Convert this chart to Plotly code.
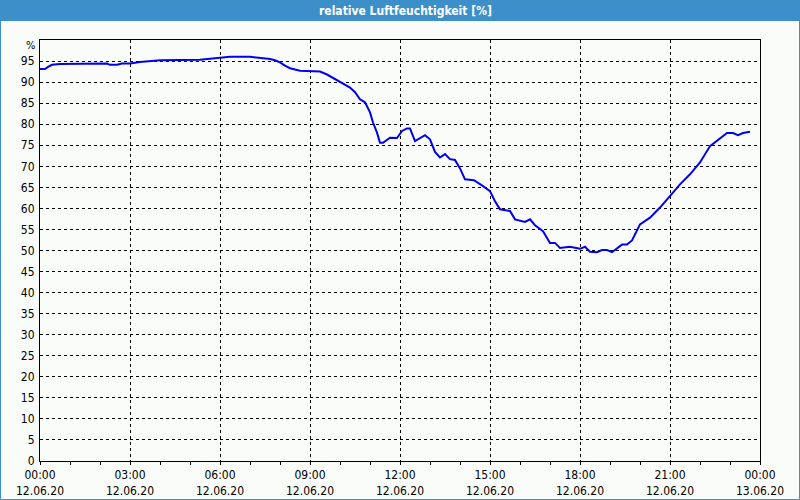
import plotly.graph_objects as go
import pandas as pd

minutes = [0, 10, 16, 24, 40, 80, 134, 140, 154, 164, 180, 200, 220, 240, 320, 350, 380, 420,
           440, 460, 470, 480, 490, 500, 520, 560, 574, 586, 600, 620, 630, 640, 650, 660, 666,
           674, 680, 686, 700, 714, 724, 734, 740, 750, 770, 780, 790, 800, 810, 820, 830, 840,
           850, 868, 886, 900, 910, 920, 940, 950, 970, 980, 990, 1006, 1020, 1030, 1040, 1060,
           1080, 1090, 1100, 1114, 1124, 1134, 1144, 1154, 1164, 1174, 1184, 1200, 1220, 1240,
           1260, 1280, 1300, 1320, 1340, 1354, 1374, 1386, 1396, 1406, 1420]
humidity = [93.1, 93.1, 93.6, 94.1, 94.3, 94.4, 94.4, 94.1, 94.1, 94.4, 94.4, 94.8, 95.0, 95.2,
            95.3, 95.6, 96.0, 96.0, 95.8, 95.5, 95.2, 94.7, 93.9, 93.3, 92.7, 92.5, 91.8, 91.0,
            89.9, 88.7, 87.6, 85.9, 85.2, 82.8, 80.4, 78.0, 75.6, 75.6, 76.8, 76.7, 78.4, 79.0,
            79.0, 76.0, 77.4, 76.4, 73.4, 72.1, 72.9, 71.7, 71.5, 69.5, 66.9, 66.7, 65.3, 64.1,
            61.7, 59.8, 59.4, 57.4, 56.8, 57.4, 56.0, 54.6, 51.8, 51.8, 50.6, 50.9, 50.4, 50.9,
            49.7, 49.6, 50.1, 50.1, 49.6, 50.4, 51.4, 51.4, 52.4, 56.2, 57.8, 60.2, 62.9, 65.7,
            68.1, 70.9, 74.8, 76.0, 77.9, 77.9, 77.4, 77.9, 78.2]

x_tick_times = ["2020-06-12 00:00", "2020-06-12 03:00", "2020-06-12 06:00", "2020-06-12 09:00",
                "2020-06-12 12:00", "2020-06-12 15:00", "2020-06-12 18:00", "2020-06-12 21:00",
                "2020-06-13 00:00"]
x_tick_labels = ["00:00<br>12.06.20", "03:00<br>12.06.20", "06:00<br>12.06.20", "09:00<br>12.06.20",
                 "12:00<br>12.06.20", "15:00<br>12.06.20", "18:00<br>12.06.20", "21:00<br>12.06.20",
                 "00:00<br>13.06.20"]
y_ticks = list(range(0, 100, 5))

title_text = "relative Luftfeuchtigkeit [%]"
unit_text = "%"

start = pd.Timestamp("2020-06-12 00:00")
times = [start + pd.Timedelta(minutes=m) for m in minutes]

W, H = 800, 500
L, R, T, B = 40, 40, 40, 39
pw, ph = W - L - R, H - T - B

def px_x(p):
    return (p - L) / pw

def px_y(p):
    return 1 - (p - T) / ph

font = "DejaVu Sans Condensed, DejaVu Sans, sans-serif"
bar_color = "#3C8FC8"
bg = "#FAFCFA"

fig = go.Figure()
fig.add_trace(go.Scatter(x=times, y=humidity, mode="lines",
                         line=dict(color="#0000EE", width=2), showlegend=False))

fig.update_layout(
    width=W, height=H,
    margin=dict(l=L, r=R, t=T, b=B),
    paper_bgcolor=bg, plot_bgcolor=bg,
    font=dict(family=font, size=12, color="black"),
    showlegend=False,
    shapes=[
        dict(type="rect", xref="paper", yref="paper",
             x0=px_x(0), x1=px_x(W), y0=px_y(21), y1=px_y(0),
             fillcolor=bar_color, line=dict(width=0), layer="below"),
        dict(type="rect", xref="paper", yref="paper",
             x0=px_x(0.5), x1=px_x(W - 0.5), y0=px_y(H - 0.5), y1=px_y(0.5),
             line=dict(color=bar_color, width=1), fillcolor="rgba(0,0,0,0)"),
    ],
    annotations=[
        dict(text="<b>" + title_text + "</b>", xref="paper", yref="paper",
             x=px_x(405), y=px_y(10.5), xanchor="center", yanchor="middle",
             showarrow=False, font=dict(family=font, size=12, color="white")),
        dict(text=unit_text, xref="paper", yref="paper", x=px_x(37), y=px_y(45),
             xanchor="right", yanchor="middle", showarrow=False,
             font=dict(family=font, size=11, color="black")),
    ],
)

fig.update_xaxes(
    type="date",
    range=[pd.Timestamp("2020-06-12 00:00"), pd.Timestamp("2020-06-13 00:00")],
    tickvals=[pd.Timestamp(t) for t in x_tick_times], ticktext=x_tick_labels,
    showgrid=True, gridcolor="black", gridwidth=1, griddash="3px,3px",
    showline=True, linecolor="black", linewidth=1, mirror=True,
    ticks="outside", ticklen=3, tickcolor="black",
    minor=dict(dtick=3600000, ticks="outside", ticklen=3, tickcolor="black", showgrid=False),
    zeroline=False, fixedrange=True, automargin=False,
)
fig.update_yaxes(
    range=[0, 100], tickvals=y_ticks, ticktext=[str(v) for v in y_ticks],
    showgrid=True, gridcolor="black", gridwidth=1, griddash="3px,3px",
    showline=True, linecolor="black", linewidth=1, mirror=True,
    ticks="", ticklabelstandoff=2,
    zeroline=False, fixedrange=True, automargin=False,
)

fig.write_html("out.html", config={"displayModeBar": False},
               post_script="document.body.style.margin='0';document.body.style.overflow='hidden';")
